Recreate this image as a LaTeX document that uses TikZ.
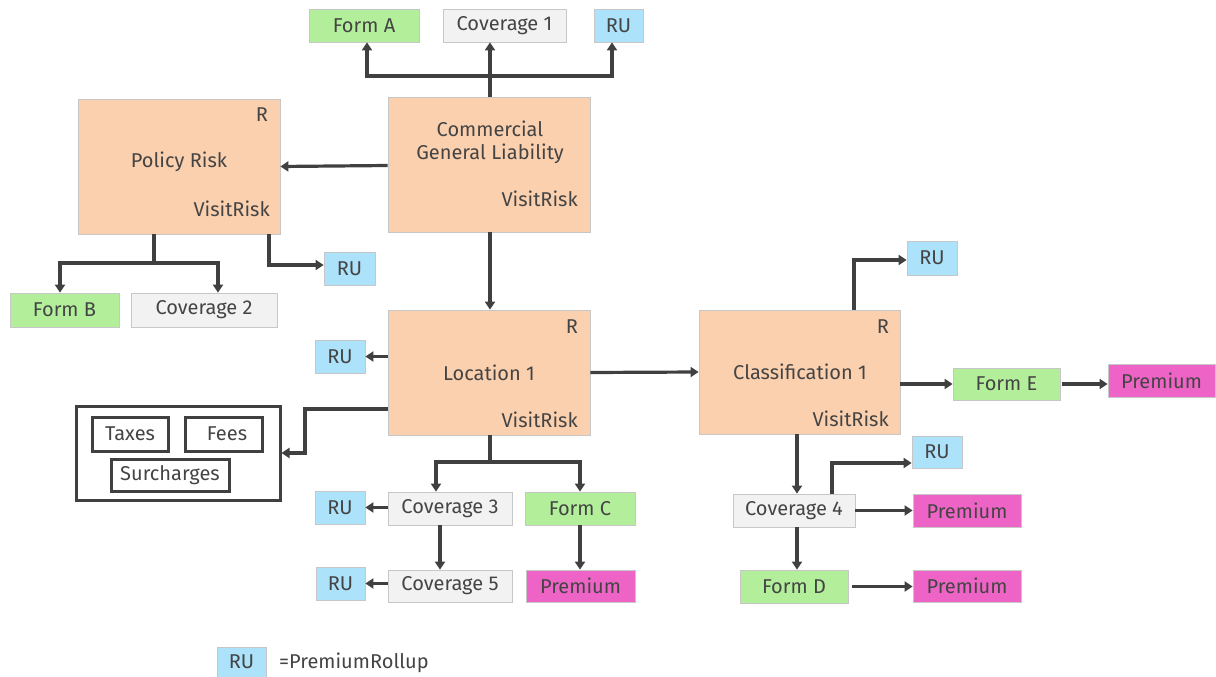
\documentclass[tikz,border=0pt]{standalone}
\usepackage{fontspec}
\setmainfont{Fira Sans}
\usetikzlibrary{arrows.meta,calc}
\definecolor{peach}{HTML}{FBD0AE}
\definecolor{formgreen}{HTML}{B3EF9B}
\definecolor{covgray}{HTML}{F2F2F2}
\definecolor{rublue}{HTML}{ADE2FB}
\definecolor{premmag}{HTML}{EE64C6}
\definecolor{ink}{HTML}{404040}
\definecolor{txt}{HTML}{444444}
\tikzset{
  base/.style={draw=black!22, line width=0.8pt, inner sep=0pt, text=txt,
    font=\fontsize{20}{23}\selectfont, align=center},
  risk/.style={base, fill=peach},
  form/.style={base, fill=formgreen},
  cov/.style={base, fill=covgray},
  ru/.style={base, fill=rublue},
  prem/.style={base, fill=premmag},
  chargebox/.style={draw=ink, line width=3pt, inner sep=0pt, text=txt,
    font=\fontsize{20}{23}\selectfont},
  tag/.style={text=txt, inner sep=0pt, font=\fontsize{20}{23}\selectfont},
  arr/.style={draw=ink, line width=3.2pt,
    -{Triangle[length=8pt,width=10pt]}},
  plain/.style={draw=ink, line width=3.2pt}
}
% box by pixel corners: name, x1, y1, x2, y2, style, text
\newcommand\pbox[7]{\node[#6, minimum width={(#4)-(#2)}, minimum height={(#5)-(#3)}]
  (#1) at ({((#2)+(#4))/2},{((#3)+(#5))/2}) {#7};}
\begin{document}
\begin{tikzpicture}[x=1pt,y=-1pt]
\useasboundingbox (0,0) rectangle (1216,677);

% risk containers
\pbox{cgl}{388}{97}{590}{232}{risk}{}
\pbox{pol}{78}{99}{280}{234}{risk}{}
\pbox{loc}{388}{310}{590}{435}{risk}{}
\pbox{cls}{699}{310}{900}{434}{risk}{}
\node[tag, align=center] at (490,142) {Commercial\\General Liability};
\node[tag, anchor=east] at (578,199) {VisitRisk};
\node[tag] at (179,162) {Policy Risk};
\node[tag] at (262,115) {R};
\node[tag, anchor=east] at (270,209) {VisitRisk};
\node[tag] at (489,373) {Location 1};
\node[tag] at (572,327) {R};
\node[tag, anchor=east] at (578,420) {VisitRisk};
\node[tag] at (800,372) {Classification 1};
\node[tag] at (883,327) {R};
\node[tag, anchor=east] at (889,419) {VisitRisk};

% top row
\pbox{formA}{309}{9}{419}{42}{form}{Form A}
\pbox{cov1}{443}{9}{566}{42}{cov}{Coverage 1}
\pbox{ruA}{594}{9}{643}{42}{ru}{RU}

% policy risk children
\pbox{formB}{10}{293}{119}{327}{form}{Form B}
\pbox{cov2}{131}{293}{277}{327}{cov}{Coverage 2}
\pbox{ruB}{324}{252}{375}{285}{ru}{RU}

% location children
\pbox{ruC}{315}{340}{365}{373}{ru}{RU}
\pbox{charges}{76}{406}{280}{500}{chargebox}{}
\pbox{taxes}{92}{417}{168}{451}{chargebox}{Taxes}
\pbox{fees}{185}{417}{262}{451}{chargebox}{\hspace{7pt}Fees}
\pbox{surch}{111}{459}{229}{491}{chargebox}{Surcharges}
\pbox{cov3}{388}{492}{512}{525}{cov}{Coverage 3}
\pbox{formC}{525}{492}{635}{525}{form}{Form C}
\pbox{ruD}{315}{491}{365}{524}{ru}{RU}
\pbox{cov5}{388}{570}{512}{602}{cov}{Coverage 5}
\pbox{ruE}{316}{567}{365}{600}{ru}{RU}
\pbox{premC}{526}{570}{635}{602}{prem}{Premium}

% classification children
\pbox{ruF}{907}{241}{957}{275}{ru}{RU}
\pbox{formE}{953}{368}{1060}{400}{form}{Form E}
\pbox{premE}{1108}{364}{1215}{397}{prem}{Premium}
\pbox{cov4}{733}{494}{855}{527}{cov}{Coverage 4}
\pbox{ruG}{912}{436}{962}{468}{ru}{RU}
\pbox{prem4}{913}{494}{1021}{527}{prem}{Premium}
\pbox{formD}{740}{570}{848}{603}{form}{Form D}
\pbox{premD}{913}{570}{1021}{602}{prem}{Premium}

% legend
\pbox{ruL}{217}{647}{266}{677}{ru}{RU}
\node[tag, anchor=west] (legend) at (279,663) {=PremiumRollup};

% connectors: commercial general liability
\coordinate (cglTop) at (490,76);
\draw[arr] ([xshift=1]cgl.north) -- ([xshift=1]cgl.north |- cov1.south);
\draw[arr] (cglTop) -| ([xshift=3]formA.south);
\draw[arr] (cglTop) -| ([xshift=-6.5]ruA.south);
\draw[arr] ([yshift=-1]cgl.west) -- (pol.east);
\draw[arr] ([xshift=1]cgl.south) -- ([xshift=1]loc.north);

% connectors: policy risk
\coordinate (polSplit) at (154,263);
\draw[plain] (polSplit |- pol.south) -- (polSplit);
\draw[arr] (polSplit) -| ([xshift=-4.5]formB.north);
\draw[arr] (polSplit) -| ([xshift=14]cov2.north);
\coordinate (polRU) at (269,265);
\draw[arr] (polRU |- pol.south) -- (polRU) -- (polRU -| ruB.west);

% connectors: location
\draw[arr] (loc.west |- ruC.east) -- (ruC.east);
\coordinate (locBend) at (305,409);
\draw[arr] (loc.west |- locBend) -- (locBend) |- (charges.east |- 0,453);
\coordinate (locSplit) at (490,462);
\draw[plain] (locSplit |- loc.south) -- (locSplit);
\draw[arr] (locSplit) -| ([xshift=-14]cov3.north);
\draw[arr] (locSplit) -| (formC.north);
\draw[arr] (cov3.west |- ruD.east) -- (ruD.east);
\draw[arr] ([xshift=-10]cov3.south) -- ([xshift=-10]cov5.north);
\draw[arr] (cov5.west |- ruE.east) -- (ruE.east);
\draw[arr] (formC.south) -- (formC.south |- premC.north);
\draw[arr] (loc.east) -- (cls.west);

% connectors: classification
\coordinate (clsRU) at (854,260);
\draw[arr] (clsRU |- cls.north) -- (clsRU) -- (clsRU -| ruF.west);
\draw[arr] (cls.east |- formE.west) -- (formE.west);
\draw[arr] ([xshift=2]formE.east) -- (premE.west |- formE.east);
\draw[arr] ([xshift=-2.5]cls.south) -- ([xshift=3]cov4.north);
\coordinate (covRU) at (832,463);
\draw[arr] (covRU |- cov4.north) -- (covRU) -- (covRU -| ruG.west);
\draw[arr] (cov4.east) -- (prem4.west |- cov4.east);
\draw[arr] ([xshift=3]cov4.south) -- ([xshift=3]formD.north);
\draw[arr] ([xshift=4]formD.east) -- (premD.west |- formD.east);
\end{tikzpicture}
\end{document}
